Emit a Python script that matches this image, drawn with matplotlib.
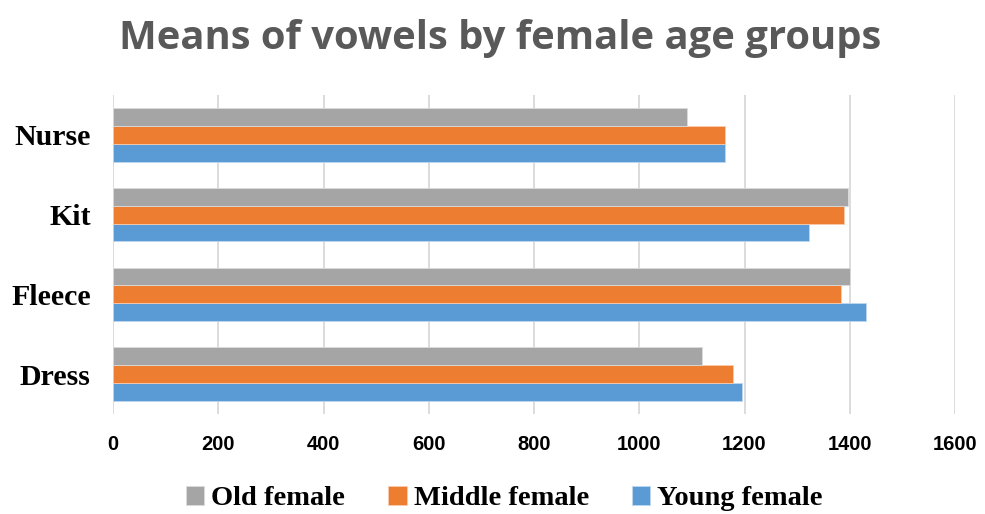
import matplotlib
matplotlib.use("Agg")
import matplotlib.pyplot as plt
import numpy as np

categories = ["Dress", "Fleece", "Kit", "Nurse"]
old_female = [1119, 1401, 1397, 1091]
middle_female = [1179, 1384, 1390, 1162]
young_female = [1195, 1430, 1322, 1162]
x_ticks = [0, 200, 400, 600, 800, 1000, 1200, 1400, 1600]

c_old = "#A5A5A5"
c_mid = "#ED7D31"
c_young = "#5B9BD5"

fig = plt.figure(figsize=(9.85, 5.14), dpi=100)
ax = fig.add_axes([113 / 985, 1 - 414 / 514, (955 - 113) / 985, (414 - 95) / 514])

y = np.arange(len(categories))
h = 0.223
ax.barh(y - h, young_female, height=h, color=c_young, edgecolor="#BDD7EE", linewidth=0.6, label="Young female", zorder=3)
ax.barh(y, middle_female, height=h, color=c_mid, edgecolor="#F8CBAD", linewidth=0.6, label="Middle female", zorder=3)
ax.barh(y + h, old_female, height=h, color=c_old, edgecolor="#DBDBDB", linewidth=0.6, label="Old female", zorder=3)

ax.set_xlim(0, 1600)
ax.set_ylim(-0.5, len(categories) - 0.5)
ax.set_xticks(x_ticks)
ax.set_xticklabels([str(t) for t in x_ticks], fontfamily="Liberation Sans", fontweight="bold", fontsize=14.5)
ax.set_yticks(y)
ax.set_yticklabels(categories, fontfamily="Liberation Serif", fontweight="bold", fontsize=21.5)
ax.tick_params(axis="both", length=0)
ax.tick_params(axis="x", pad=15)
ax.tick_params(axis="y", pad=16)
ax.xaxis.grid(True, color="#D9D9D9", linewidth=1.3, zorder=0)
for s in ax.spines.values():
    s.set_visible(False)

fig.text(0.508, 0.925, "Means of vowels by female age groups", ha="center", va="center",
         fontfamily="Open Sans", fontweight="bold", fontsize=28.8, color="#595959")

handles, labels = ax.get_legend_handles_labels()
order = [2, 1, 0]
leg = fig.legend([handles[i] for i in order], [labels[i] for i in order],
                 loc="center", bbox_to_anchor=(0.512, 0.03), ncol=3, frameon=False,
                 prop={"family": "Liberation Serif", "weight": "bold", "size": 20.5},
                 handlelength=0.65, handleheight=0.65, handletextpad=0.25, columnspacing=1.5)

fig.savefig("out.png", dpi=100)
